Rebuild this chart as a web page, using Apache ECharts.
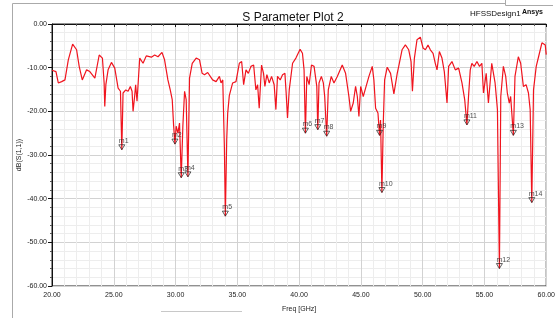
<!DOCTYPE html>
<html>
<head>
<meta charset="utf-8">
<script src="https://cdn.jsdelivr.net/npm/echarts@6/dist/echarts.min.js"></script>
<style>
  html, body { margin: 0; padding: 0; background: #fff; }
  #chart { width: 558px; height: 318px; }
</style>
</head>
<body>
<div id="chart"></div>
<script>
// S11 curve (GHz / dB)
const freq = [
  20.0, 20.11, 20.32, 20.51, 20.78, 21.05, 21.32, 21.67, 21.99, 22.2, 22.45, 22.8, 23.06, 23.47, 23.82,
  24.08, 24.22, 24.27, 24.36, 24.54, 24.81, 25.08, 25.35, 25.54, 25.65, 25.75, 25.97, 26.16, 26.34, 26.48,
  26.56, 26.69, 26.77, 26.88, 27.1, 27.37, 27.63, 28.04, 28.31, 28.58, 28.9, 29.11, 29.38, 29.57, 29.73,
  29.84, 29.95, 30.05, 30.19, 30.32, 30.46, 30.59, 30.73, 30.86, 31.0, 31.13, 31.35, 31.67, 31.94, 32.15,
  32.34, 32.6, 33.0, 33.28, 33.55, 33.68, 33.82, 33.95, 34.03, 34.14, 34.22, 34.35, 34.62, 34.89, 35.16,
  35.35, 35.51, 35.7, 35.89, 36.1, 36.32, 36.5, 36.64, 36.77, 36.96, 37.12, 37.23, 37.39, 37.58, 37.77,
  37.98, 38.12, 38.25, 38.47, 38.66, 38.85, 38.95, 39.06, 39.2, 39.47, 39.74, 40.08, 40.27, 40.4, 40.51,
  40.62, 40.81, 41.0, 41.21, 41.43, 41.51, 41.61, 41.8, 41.96, 42.07, 42.23, 42.36, 42.6, 42.82, 43.09,
  43.49, 43.76, 44.03, 44.17, 44.38, 44.57, 44.71, 44.84, 44.98, 45.19, 45.38, 45.65, 45.92, 46.05, 46.19,
  46.38, 46.51, 46.59, 46.7, 46.81, 46.92, 47.13, 47.4, 47.67, 47.94, 48.06, 48.33, 48.6, 48.87, 49.06,
  49.17, 49.33, 49.54, 49.81, 50.03, 50.22, 50.43, 50.62, 50.84, 51.02, 51.16, 51.35, 51.56, 51.75, 51.97,
  52.1, 52.37, 52.64, 52.91, 53.18, 53.4, 53.58, 53.71, 53.85, 53.98, 54.17, 54.39, 54.6, 54.79, 54.92,
  55.14, 55.32, 55.59, 55.86, 56.05, 56.21, 56.32, 56.53, 56.72, 56.85, 57.01, 57.12, 57.34, 57.47, 57.74,
  57.93, 58.15, 58.37, 58.56, 58.7, 58.83, 58.97, 59.19, 59.38, 59.65, 59.92, 60.0
];
const s11 = [
  -10.6, -10.5, -10.9, -13.5, -13.2, -12.8, -8.2, -4.6, -5.9, -9.7, -12.8, -10.5, -10.9, -12.4, -7.1,
  -7.8, -13.5, -18.9, -13.9, -10.5, -8.8, -10.1, -14.7, -15.4, -28.8, -15.8, -15.1, -15.4, -14.3, -15.4,
  -20.0, -16.5, -13.9, -17.7, -7.8, -9.0, -7.3, -7.6, -7.1, -7.5, -6.5, -8.2, -12.8, -15.1, -17.3,
  -23.1, -27.5, -23.4, -25.0, -22.7, -35.2, -23.4, -15.4, -17.3, -35.0, -12.4, -9.0, -7.8, -8.2, -11.3,
  -11.6, -11.1, -12.8, -13.2, -12.0, -13.5, -12.8, -28.0, -44.0, -26.5, -20.4, -16.4, -13.5, -13.2, -9.0,
  -8.6, -13.9, -10.5, -11.3, -9.7, -9.4, -15.1, -13.9, -19.3, -9.4, -11.3, -14.3, -11.6, -13.5, -12.0,
  -13.9, -19.6, -12.0, -12.8, -11.6, -11.3, -15.8, -21.5, -15.1, -9.0, -7.8, -5.8, -6.7, -10.5, -25.0,
  -12.0, -13.9, -9.4, -9.7, -14.3, -24.2, -13.5, -12.0, -13.5, -16.6, -25.7, -15.1, -12.0, -13.5, -12.0,
  -9.4, -11.3, -16.6, -20.0, -18.1, -14.3, -16.6, -21.2, -14.3, -16.6, -14.7, -12.0, -9.7, -12.8, -19.3,
  -20.4, -25.5, -22.0, -38.6, -22.7, -12.8, -9.9, -11.3, -16.0, -11.3, -9.7, -5.9, -4.8, -5.9, -8.6,
  -15.4, -7.8, -3.6, -3.0, -5.5, -5.9, -4.8, -5.9, -6.7, -9.0, -10.5, -6.3, -7.8, -10.9, -18.1,
  -9.7, -8.6, -10.5, -10.1, -13.5, -17.3, -23.1, -16.6, -10.5, -9.0, -9.7, -8.6, -9.7, -9.0, -15.8,
  -11.3, -18.1, -9.0, -13.5, -19.6, -56.0, -16.6, -9.7, -12.0, -15.8, -18.1, -16.6, -25.5, -12.0, -7.5,
  -9.0, -14.3, -13.9, -15.8, -19.6, -40.9, -15.1, -9.7, -7.5, -4.3, -4.8, -7.0
];

// markers m1..m14
const markerNames = ['m1', 'm2', 'm3', 'm4', 'm5', 'm6', 'm7', 'm8', 'm9', 'm10', 'm11', 'm12', 'm13', 'm14'];
const markerFreq = [25.65, 29.95, 30.46, 31.0, 34.03, 40.51, 41.51, 42.23, 46.51, 46.7, 53.58, 56.21, 57.34, 58.83];
const markerDb = [-28.8, -27.5, -35.2, -35.0, -44.0, -25.0, -24.2, -25.7, -25.5, -38.6, -23.1, -56.0, -25.5, -40.9];

const font = 'Liberation Sans, Arial, sans-serif';

let chart = echarts.init(document.getElementById('chart'))

let option = {
  animation: false,
  backgroundColor: '#fff',
  title: {
    text: 'S Parameter Plot 2',
    left: 288,
    top: 7,
    textAlign: 'center',
    textStyle: { fontSize: 12, fontWeight: 'normal', color: '#111', fontFamily: font }
  },
  grid: {
    left: 52, right: 10, top: 24, bottom: 31,
    show: true, borderColor: '#222', borderWidth: 1
  },
  xAxis: {
    type: 'value',
    min: 20, max: 60, interval: 5,
    name: 'Freq [GHz]',
    nameLocation: 'middle',
    nameGap: 20,
    nameTextStyle: { fontSize: 7, color: '#222', fontFamily: font },
    axisLine: { lineStyle: { color: '#111' } },
    axisTick: { length: 3, lineStyle: { color: '#111' } },
    minorTick: { show: true, splitNumber: 5, length: 2, lineStyle: { color: '#555' } },
    axisLabel: {
      fontSize: 7, color: '#222', fontFamily: font, margin: 6,
      formatter: function (v) { return v.toFixed(2) }
    },
    splitLine: { show: true, lineStyle: { color: '#d2d2d2', width: 1 } },
    minorSplitLine: { show: true, lineStyle: { color: '#ededed', width: 1 } }
  },
  yAxis: {
    type: 'value',
    min: -60, max: 0, interval: 10,
    axisLine: { show: true, lineStyle: { color: '#111' } },
    axisTick: { show: true, length: 4, lineStyle: { color: '#111' } },
    minorTick: { show: true, splitNumber: 5, length: 2, lineStyle: { color: '#555' } },
    axisLabel: {
      fontSize: 7, color: '#222', fontFamily: font, margin: 5,
      formatter: function (v) { return v.toFixed(2) }
    },
    splitLine: { show: true, lineStyle: { color: '#d2d2d2', width: 1 } },
    minorSplitLine: { show: true, lineStyle: { color: '#ededed', width: 1 } }
  },
  series: [
    {
      type: 'line',
      data: freq.map(function (f, i) { return [f, s11[i]] }),
      showSymbol: false,
      symbol: 'none',
      lineStyle: { color: '#f0141e', width: 1.2 },
      z: 2
    },
    {
      type: 'scatter',
      data: markerFreq.map(function (f, i) { return { value: [f, markerDb[i]], name: markerNames[i] } }),
      symbol: 'triangle',
      symbolSize: [6, 5],
      symbolRotate: 180,
      symbolOffset: [0, -2.5],
      itemStyle: { color: 'rgba(255,255,255,0)', borderColor: '#222', borderWidth: 0.9 },
      label: {
        show: true,
        position: 'top',
        align: 'left',
        offset: [-3, 1],
        distance: 1,
        fontSize: 7,
        color: '#222',
        fontFamily: font,
        formatter: function (p) { return p.name }
      },
      z: 3
    }
  ],
  graphic: [
    // outer report frame
    { type: 'line', shape: { x1: 12.5, y1: 3.5, x2: 12.5, y2: 318 }, style: { stroke: '#aaa', lineWidth: 1 } },
    { type: 'line', shape: { x1: 12.5, y1: 3.5, x2: 505, y2: 3.5 }, style: { stroke: '#aaa', lineWidth: 1 } },
    { type: 'line', shape: { x1: 505.5, y1: 0, x2: 505.5, y2: 5.5 }, style: { stroke: '#aaa', lineWidth: 1 } },
    { type: 'line', shape: { x1: 505.5, y1: 5.5, x2: 553, y2: 5.5 }, style: { stroke: '#aaa', lineWidth: 1 } },
    { type: 'line', shape: { x1: 161, y1: 311.5, x2: 242, y2: 311.5 }, style: { stroke: '#c8c8c8', lineWidth: 1 } },
    {
      type: 'text', left: 470, top: 10,
      style: { text: 'HFSSDesign1', fontSize: 8, fill: '#111', fontFamily: font }
    },
    {
      type: 'text', left: 522, top: 9,
      style: { text: 'Ansys', fontSize: 7, fontWeight: 'bold', fill: '#111', fontFamily: font }
    },
    {
      type: 'text', x: 19, y: 155, rotation: Math.PI / 2,
      style: { text: 'dB(S(1,1))', fontSize: 7, fill: '#222', fontFamily: font, align: 'center', verticalAlign: 'middle' }
    }
  ]
}

chart.setOption(option)
window.addEventListener('resize', function () {
  chart.resize()
})
</script>
</body>
</html>
